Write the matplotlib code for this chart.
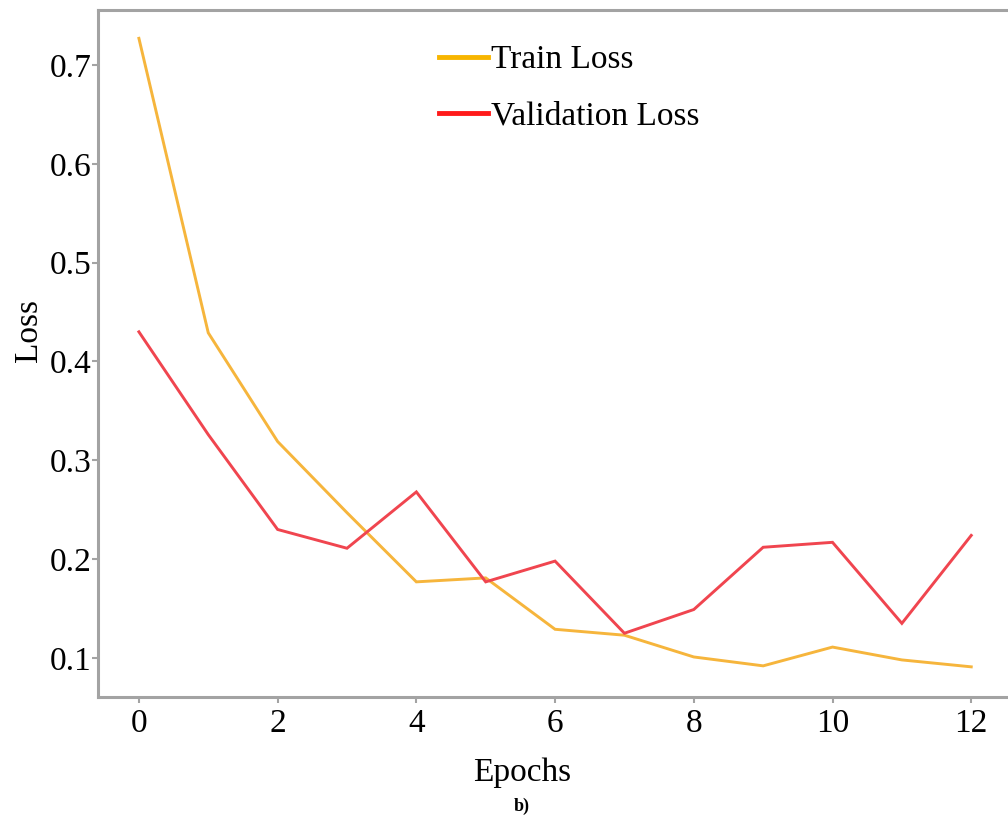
import numpy as np
import matplotlib.pyplot as plt
from matplotlib.lines import Line2D

epochs = np.arange(13)
train_loss = [0.727, 0.429, 0.319, 0.247, 0.177, 0.181, 0.129, 0.123, 0.101, 0.092, 0.111, 0.098, 0.091]
val_loss = [0.430, 0.326, 0.230, 0.211, 0.268, 0.177, 0.198, 0.125, 0.149, 0.212, 0.217, 0.135, 0.224]
x_ticks = [0, 2, 4, 6, 8, 10, 12]
y_ticks = [0.1, 0.2, 0.3, 0.4, 0.5, 0.6, 0.7]

train_color = '#f6b53c'
val_color = '#f0454f'
spine_color = '#a3a3a3'

plt.rcParams['font.family'] = ['Liberation Serif', 'DejaVu Serif']

fig = plt.figure(figsize=(10.08, 8.17), dpi=100)
ax = fig.add_axes([0.0972, 0.1469, 0.9028, 0.8409])

ax.plot(epochs, train_loss, color=train_color, lw=2.1, solid_joinstyle='miter')
ax.plot(epochs, val_loss, color=val_color, lw=2.1, solid_joinstyle='miter')

ax.set_xlim(-0.59, 12.53)
ax.set_ylim(0.0605, 0.7557)
ax.set_xticks(x_ticks)
ax.set_yticks(y_ticks)
ax.set_yticklabels([f'{v:.1f}' for v in y_ticks])
ax.tick_params(axis='both', labelsize=24, color=spine_color, length=4, width=1.5,
               direction='out', pad=4)
ax.tick_params(axis='y', pad=0.5)

for side in ['left', 'bottom', 'top']:
    ax.spines[side].set_color(spine_color)
    ax.spines[side].set_linewidth(2.2)
ax.spines['right'].set_visible(False)

ax.set_xlabel('Epochs', fontsize=24)
ax.xaxis.set_label_coords(0.466, -0.088)
ax.set_ylabel('Loss', fontsize=24)
ax.yaxis.set_label_coords(-0.059, 0.534)

handles = [Line2D([], [], color='#f7b500', lw=3.5),
           Line2D([], [], color='#ff1a1a', lw=3.5)]
ax.legend(handles, ['Train Loss', 'Validation Loss'], loc='upper left',
          bbox_to_anchor=(0.342, 0.993), frameon=False, fontsize=24,
          handlelength=1.45, handletextpad=0.1, labelspacing=0.78)

fig.text(0.518, 0.0135, 'b)', fontsize=13, fontweight='bold', ha='center', va='center')

fig.savefig('out.png', dpi=100)
